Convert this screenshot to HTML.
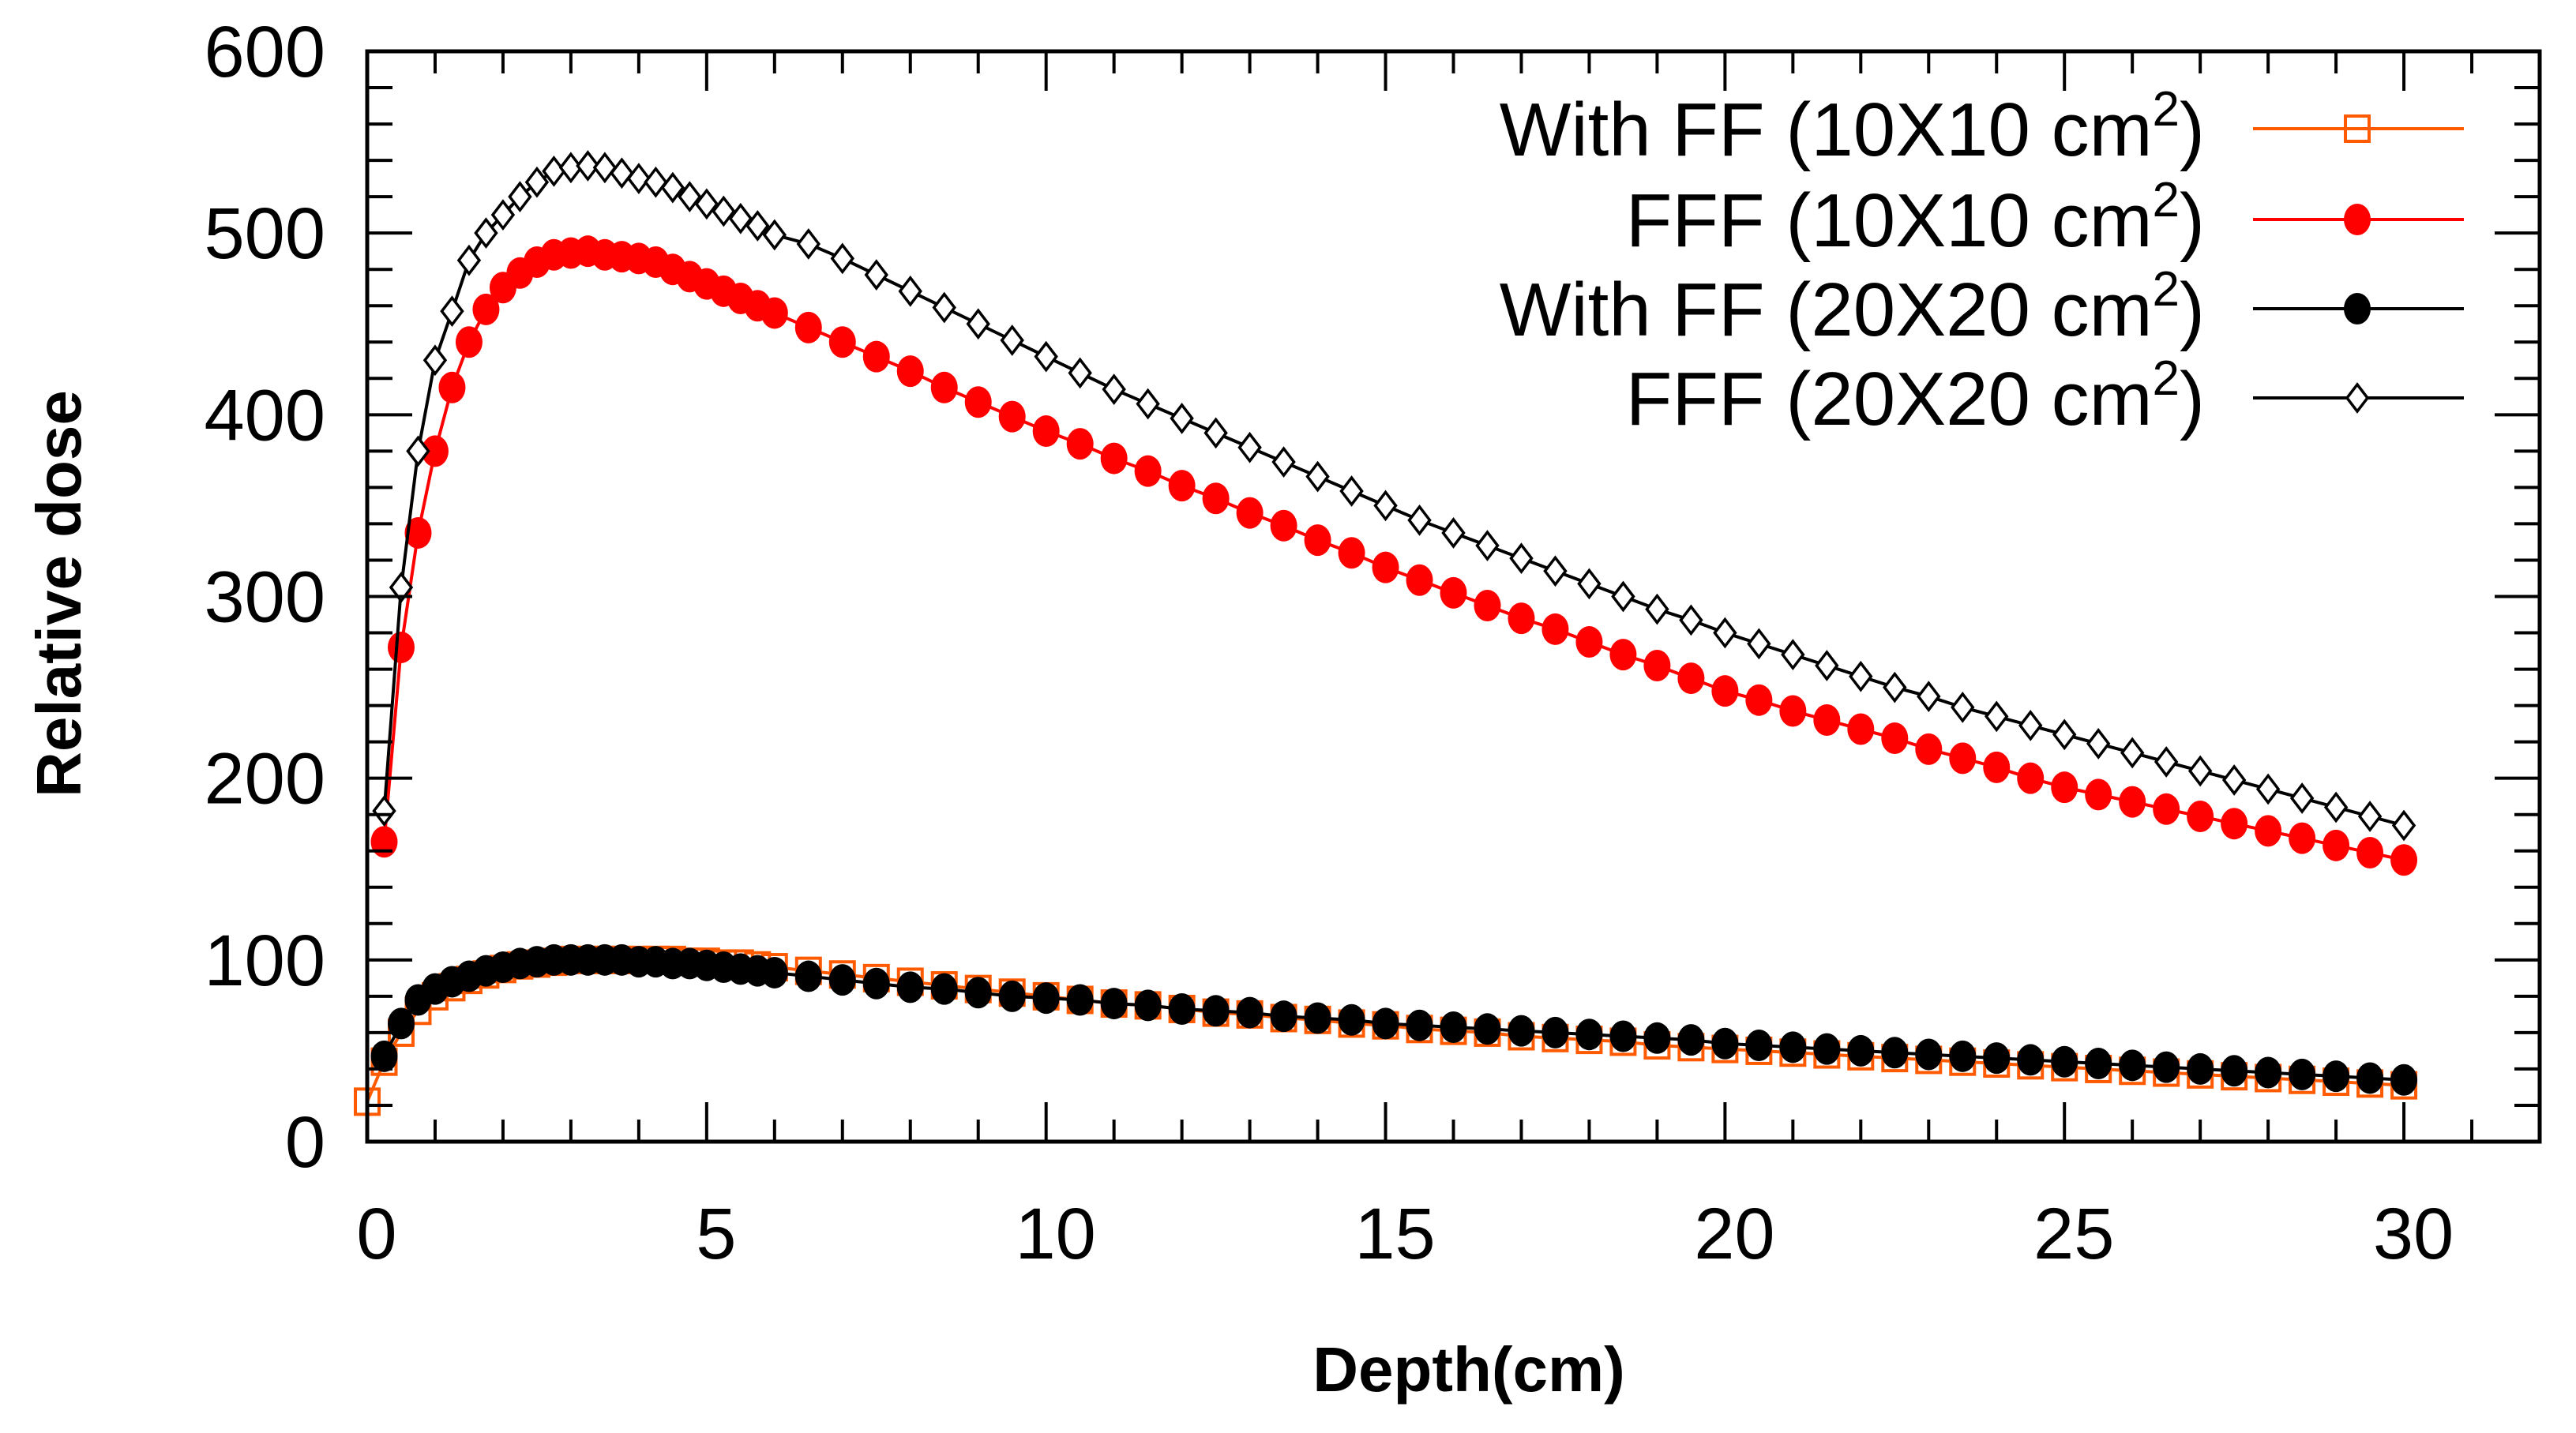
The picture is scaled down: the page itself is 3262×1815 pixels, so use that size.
<!DOCTYPE html>
<html><head><meta charset="utf-8"><style>
html,body{margin:0;padding:0;background:#fff;}
svg{display:block;}
text{font-family:"Liberation Sans",sans-serif;fill:#000;}
</style></head><body>
<svg id="chart" width="3262" height="1815" viewBox="0 0 3262 1815" xmlns="http://www.w3.org/2000/svg">
<g id="marks"></g>
<g id="axes"></g>
<g id="legend"></g>
<text x="1860" y="1762" font-size="80" font-weight="bold" text-anchor="middle">Depth(cm)</text>
<text transform="translate(102,752) rotate(-90)" font-size="80" font-weight="bold" text-anchor="middle">Relative dose</text>
</svg>
<script>
const xTicks=[0,5,10,15,20,25,30];
const yTicks=[0,100,200,300,400,500,600];
const xFFF=[0.25,0.5,0.75,1,1.25,1.5,1.75,2,2.25,2.5,2.75,3,3.25,3.5,3.75,4,4.25,4.5,4.75,5,5.25,5.5,5.75,6,6.5,7,7.5,8,8.5,9,9.5,10,10.5,11,11.5,12,12.5,13,13.5,14,14.5,15,15.5,16,16.5,17,17.5,18,18.5,19,19.5,20,20.5,21,21.5,22,22.5,23,23.5,24,24.5,25,25.5,26,26.5,27,27.5,28,28.5,29,29.5,30];
const xFF10=[0].concat(xFFF);
const ff10=[22,44,60,72,80,85,89,92,95,97,98,99,100,100,100,100,100,100,100,99,99,98,98,97,96,94,92,90,88,86,84,82,80,78,76,75,73,71,70,68,67,65,64,62,61,60,58,57,56,55,53,52,51,50,49,48,47,46,45,44,43,42,41,40,39,38,37,36,35,34,33,32,31];
const fff10=[165,272,335,380,415,440,458,470,478,484,488,489,490,488,487,486,484,480,476,472,468,464,460,456,448,440,432,424,415,407,399,391,384,376,369,361,354,346,339,331,324,316,309,302,295,288,282,275,268,262,255,248,243,237,232,227,222,216,211,206,200,195,191,187,183,179,175,171,167,163,159,155];
const ff20=[47,65,78,84,88,91,94,96,98,99,100,100,100,100,100,99,99,98,98,97,96,95,94,93,91,89,87,85,84,82,80,79,78,76,75,73,72,71,69,68,67,65,64,63,62,61,60,59,58,57,56,54,53,52,51,50,49,48,47,46,45,44,43,42,41,40,39,38,37,36,35,34];
const fff20=[182,305,380,430,457,485,500,510,520,528,534,536,537,536,533,530,528,525,520,516,512,508,504,499,494,486,477,468,459,450,441,432,423,414,406,398,390,382,374,366,358,350,342,335,328,321,314,307,300,293,287,280,274,268,262,256,250,245,239,234,229,224,219,214,209,204,199,194,189,184,179,174];
const legendLabels=["With FF (10X10 cm","FFF (10X10 cm","With FF (20X20 cm","FFF (20X20 cm"];

const NS="http://www.w3.org/2000/svg";
const L=465,R=3216,T=65,B=1446;
const X=v=>L+(v-0)*(R-L)/32;
const Y=v=>B-(v-0)*(B-T)/600;
function mk(tag,parent,attrs){const e=document.createElementNS(NS,tag);for(const k in attrs)e.setAttribute(k,attrs[k]);parent.appendChild(e);return e;}
const marks=document.getElementById('marks'),axes=document.getElementById('axes'),leg=document.getElementById('legend');

function marker(g,type,cx,cy){
  let e;
  if(type==='square'){e=mk('rect',g,{x:cx-15,y:cy-16,width:30,height:32,fill:'none',stroke:'#ff5a00','stroke-width':4});}
  else if(type==='red'){e=mk('ellipse',g,{cx:cx,cy:cy,rx:17,ry:20,fill:'#ff0000'});}
  else if(type==='black'){e=mk('ellipse',g,{cx:cx,cy:cy,rx:17,ry:20,fill:'#000'});}
  else {e=mk('polygon',g,{points:`${cx},${cy-17} ${cx+13},${cy} ${cx},${cy+17} ${cx-13},${cy}`,fill:'#fff',stroke:'#000','stroke-width':3.5});}
  return e;
}
const series=[
 {name:'with-ff-10x10',xs:xFF10,ys:ff10,color:'#ff5a00',type:'square'},
 {name:'fff-10x10',xs:xFFF,ys:fff10,color:'#ff0000',type:'red'},
 {name:'with-ff-20x20',xs:xFFF,ys:ff20,color:'#000',type:'black'},
 {name:'fff-20x20',xs:xFFF,ys:fff20,color:'#000',type:'diamond'}
];
series.forEach(s=>{
  const g=mk('g',marks,{});
  
  
  const pts=s.xs.map((x,i)=>X(x)+','+Y(s.ys[i])).join(' ');
  const pl=mk('polyline',g,{points:pts,fill:'none',stroke:s.color,'stroke-width':4});
  
  
  s.xs.forEach((x,i)=>{const m=marker(g,s.type,X(x),Y(s.ys[i]));
    
    });
});

const fr=mk('rect',axes,{x:L,y:T,width:R-L,height:B-T,fill:'none',stroke:'#000','stroke-width':5});


for(let v=0;v<=32;v++){
  const len=(v%5===0)?50:28;
  mk('line',axes,{x1:X(v),y1:B,x2:X(v),y2:B-len,stroke:'#000','stroke-width':4});
  mk('line',axes,{x1:X(v),y1:T,x2:X(v),y2:T+len,stroke:'#000','stroke-width':4});
}
for(let v=0;v<=600;v+=20){
  const len=(v%100===0)?57:32;
  mk('line',axes,{x1:L,y1:Y(v),x2:L+len,y2:Y(v),stroke:'#000','stroke-width':4});
  mk('line',axes,{x1:R,y1:Y(v),x2:R-len,y2:Y(v),stroke:'#000','stroke-width':4});
}
xTicks.forEach(v=>{const t=mk('text',axes,{x:X(v)+12,y:1594,'font-size':92,'text-anchor':'middle'});t.textContent=v;
  
  });
yTicks.forEach(v=>{const t=mk('text',axes,{x:412,y:Y(v)+32,'font-size':92,'text-anchor':'end'});t.textContent=v;
  
  });

const rowY=[163,278,391,504];
series.forEach((s,i)=>{
  const g=mk('g',leg,{});
  
  
  const t=mk('text',g,{x:2792,y:rowY[i]+34,'font-size':96,'text-anchor':'end'});
  t.textContent=legendLabels[i];
  const sup=mk('tspan',t,{dy:-38,'font-size':62});sup.textContent='2';
  const cl=mk('tspan',t,{dy:38});cl.textContent=')';
  mk('line',g,{x1:2853,y1:rowY[i],x2:3120,y2:rowY[i],stroke:s.color,'stroke-width':4});
  marker(g,s.type,2985,rowY[i]);
});
</script>
</body></html>
